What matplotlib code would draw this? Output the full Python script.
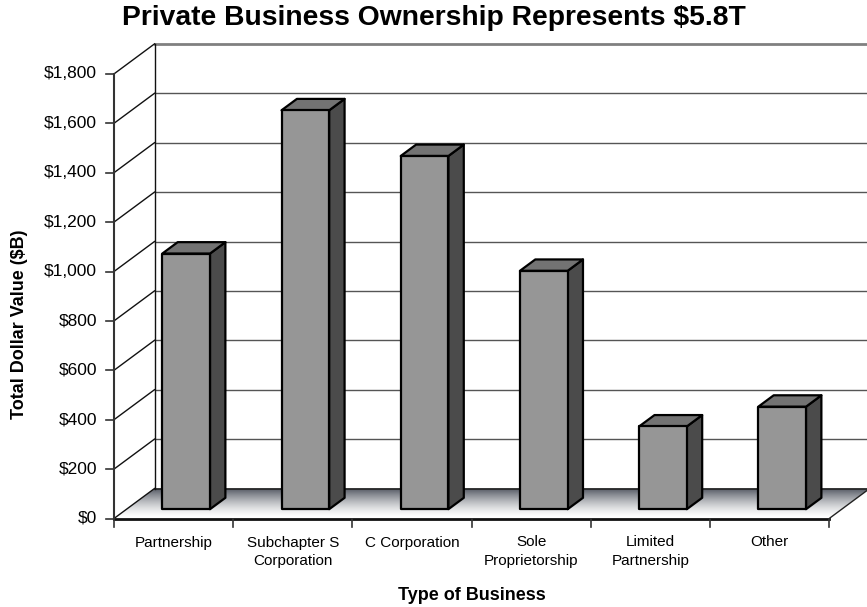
import numpy as np
import matplotlib
matplotlib.use("Agg")
import matplotlib.pyplot as plt
from matplotlib.patches import Polygon

plt.rcParams['font.family'] = ['Liberation Sans', 'DejaVu Sans']

categories = ["Partnership", "Subchapter S\nCorporation", "C Corporation",
              "Sole\nProprietorship", "Limited\nPartnership", "Other"]
values = [1035, 1615, 1430, 965, 335, 415]
y_ticks = [0, 200, 400, 600, 800, 1000, 1200, 1400, 1600, 1800]
y_tick_labels = ["$0", "$200", "$400", "$600", "$800", "$1,000",
                 "$1,200", "$1,400", "$1,600", "$1,800"]
title = "Private Business Ownership Represents $5.8T"
x_title = "Type of Business"
y_title = "Total Dollar Value ($B)"

W, H = 867, 607
fig = plt.figure(figsize=(W / 100, H / 100), dpi=100)
ax = fig.add_axes([0, 0, 1, 1])
ax.set_axis_off()

# scales: pixel per category and per dollar
PXC = 119.2
PXV = 0.247
X0, Y0 = 114, 518.5
ax.set_xlim(-X0 / PXC, (W - X0) / PXC)
ax.set_ylim((Y0 - H) / PXV, Y0 / PXV)

DU = 40.5 / PXC
DV = 30.0 / PXV
YMAX = y_ticks[-1]
N = len(categories)


def proj(u, v, d):
    return (u + DU * d, v + DV * d)


# floor with gradient
floor = [proj(0, 0, 0), proj(N, 0, 0), proj(N, 0, 1), proj(0, 0, 1)]
fpoly = Polygon(floor, closed=True, facecolor='none', edgecolor='none')
ax.add_patch(fpoly)
t = np.linspace(0, 1, 256)
g = np.clip(t ** 1.5, 0, 1)
c_front = np.array([1.0, 1.0, 1.0])
c_back = np.array([0.32, 0.34, 0.38])
grad = (c_front[None, :] * (1 - g[:, None]) + c_back[None, :] * g[:, None])
img = np.repeat(grad[:, None, :], 2, axis=1)
im = ax.imshow(img, extent=(0, N + DU, 0, DV), origin='lower',
               aspect='auto', interpolation='bilinear', zorder=1)
im.set_clip_path(fpoly)

# back wall gridlines
for v in y_ticks:
    p0, p1 = proj(0, v, 1), proj(N, v, 1)
    if v == YMAX:
        ax.plot([p0[0], p1[0]], [p0[1], p1[1]], color='#808080', lw=2, zorder=2)
    elif v == 0:
        ax.plot([p0[0], p1[0]], [p0[1], p1[1]], color='#222222', lw=1.2, zorder=2)
    else:
        ax.plot([p0[0], p1[0]], [p0[1], p1[1]], color='#555555', lw=1, zorder=2)
    # left wall diagonals
    q0, q1 = proj(0, v, 0), proj(0, v, 1)
    ax.plot([q0[0], q1[0]], [q0[1], q1[1]], color='#111111', lw=1, zorder=2)

# left wall back edge
b0, b1 = proj(0, 0, 1), proj(0, YMAX, 1)
ax.plot([b0[0], b1[0]], [b0[1], b1[1]], color='#111111', lw=1, zorder=2)

# floor right edge
fr0, fr1 = proj(N, 0, 0), proj(N, 0, 1)
ax.plot([fr0[0], fr1[0]], [fr0[1], fr1[1]], color='#222222', lw=1, zorder=2)

# front axis
a0, a1 = proj(0, 0, 0), proj(0, YMAX, 0)
ax.plot([a0[0], a1[0]], [a0[1], a1[1]], color='#333333', lw=1.5, zorder=5)
e0, e1 = proj(0, 0, 0), proj(N, 0, 0)
ax.plot([e0[0], e1[0]], [e0[1], e1[1]], color='#111111', lw=2, zorder=5)

tick_len_u = 8 / PXC
for v, lab in zip(y_ticks, y_tick_labels):
    ax.plot([-tick_len_u, 0], [v, v], color='#333333', lw=1.2, zorder=5)
    ax.text(-17 / PXC, v, lab, ha='right', va='center', fontsize=12.5,
            color='black')

tick_len_v = 8 / PXV
for i in range(N + 1):
    ax.plot([i, i], [0, -tick_len_v], color='#333333', lw=1.2, zorder=5)

for i, cat in enumerate(categories):
    ax.text(i + 0.5, -17 / PXV, cat, ha='center', va='top', fontsize=11,
            linespacing=1.45)

# bars
hw = 0.2
d0, d1 = 0.31, 0.69
for i, val in enumerate(values):
    c = i + 0.5
    front = [proj(c - hw, 0, d0), proj(c + hw, 0, d0),
             proj(c + hw, val, d0), proj(c - hw, val, d0)]
    side = [proj(c + hw, 0, d0), proj(c + hw, 0, d1),
            proj(c + hw, val, d1), proj(c + hw, val, d0)]
    top = [proj(c - hw, val, d0), proj(c + hw, val, d0),
           proj(c + hw, val, d1), proj(c - hw, val, d1)]
    for pts, col in ((side, '#4b4b4b'), (top, '#737373'), (front, '#969696')):
        ax.add_patch(Polygon(pts, closed=True, facecolor=col,
                             edgecolor='black', lw=1.6, joinstyle='round',
                             zorder=4))

fig.text(0.5, 1 - 18 / H, title, ha='center', va='center', fontsize=20.3,
         fontweight='bold')
fig.text(472 / W, 1 - 595 / H, x_title, ha='center', va='center',
         fontsize=13, fontweight='bold')
fig.text(20 / W, 1 - 324 / H, y_title, ha='center', va='center',
         fontsize=13, fontweight='bold', rotation=90)

fig.savefig("out.png", dpi=100)
